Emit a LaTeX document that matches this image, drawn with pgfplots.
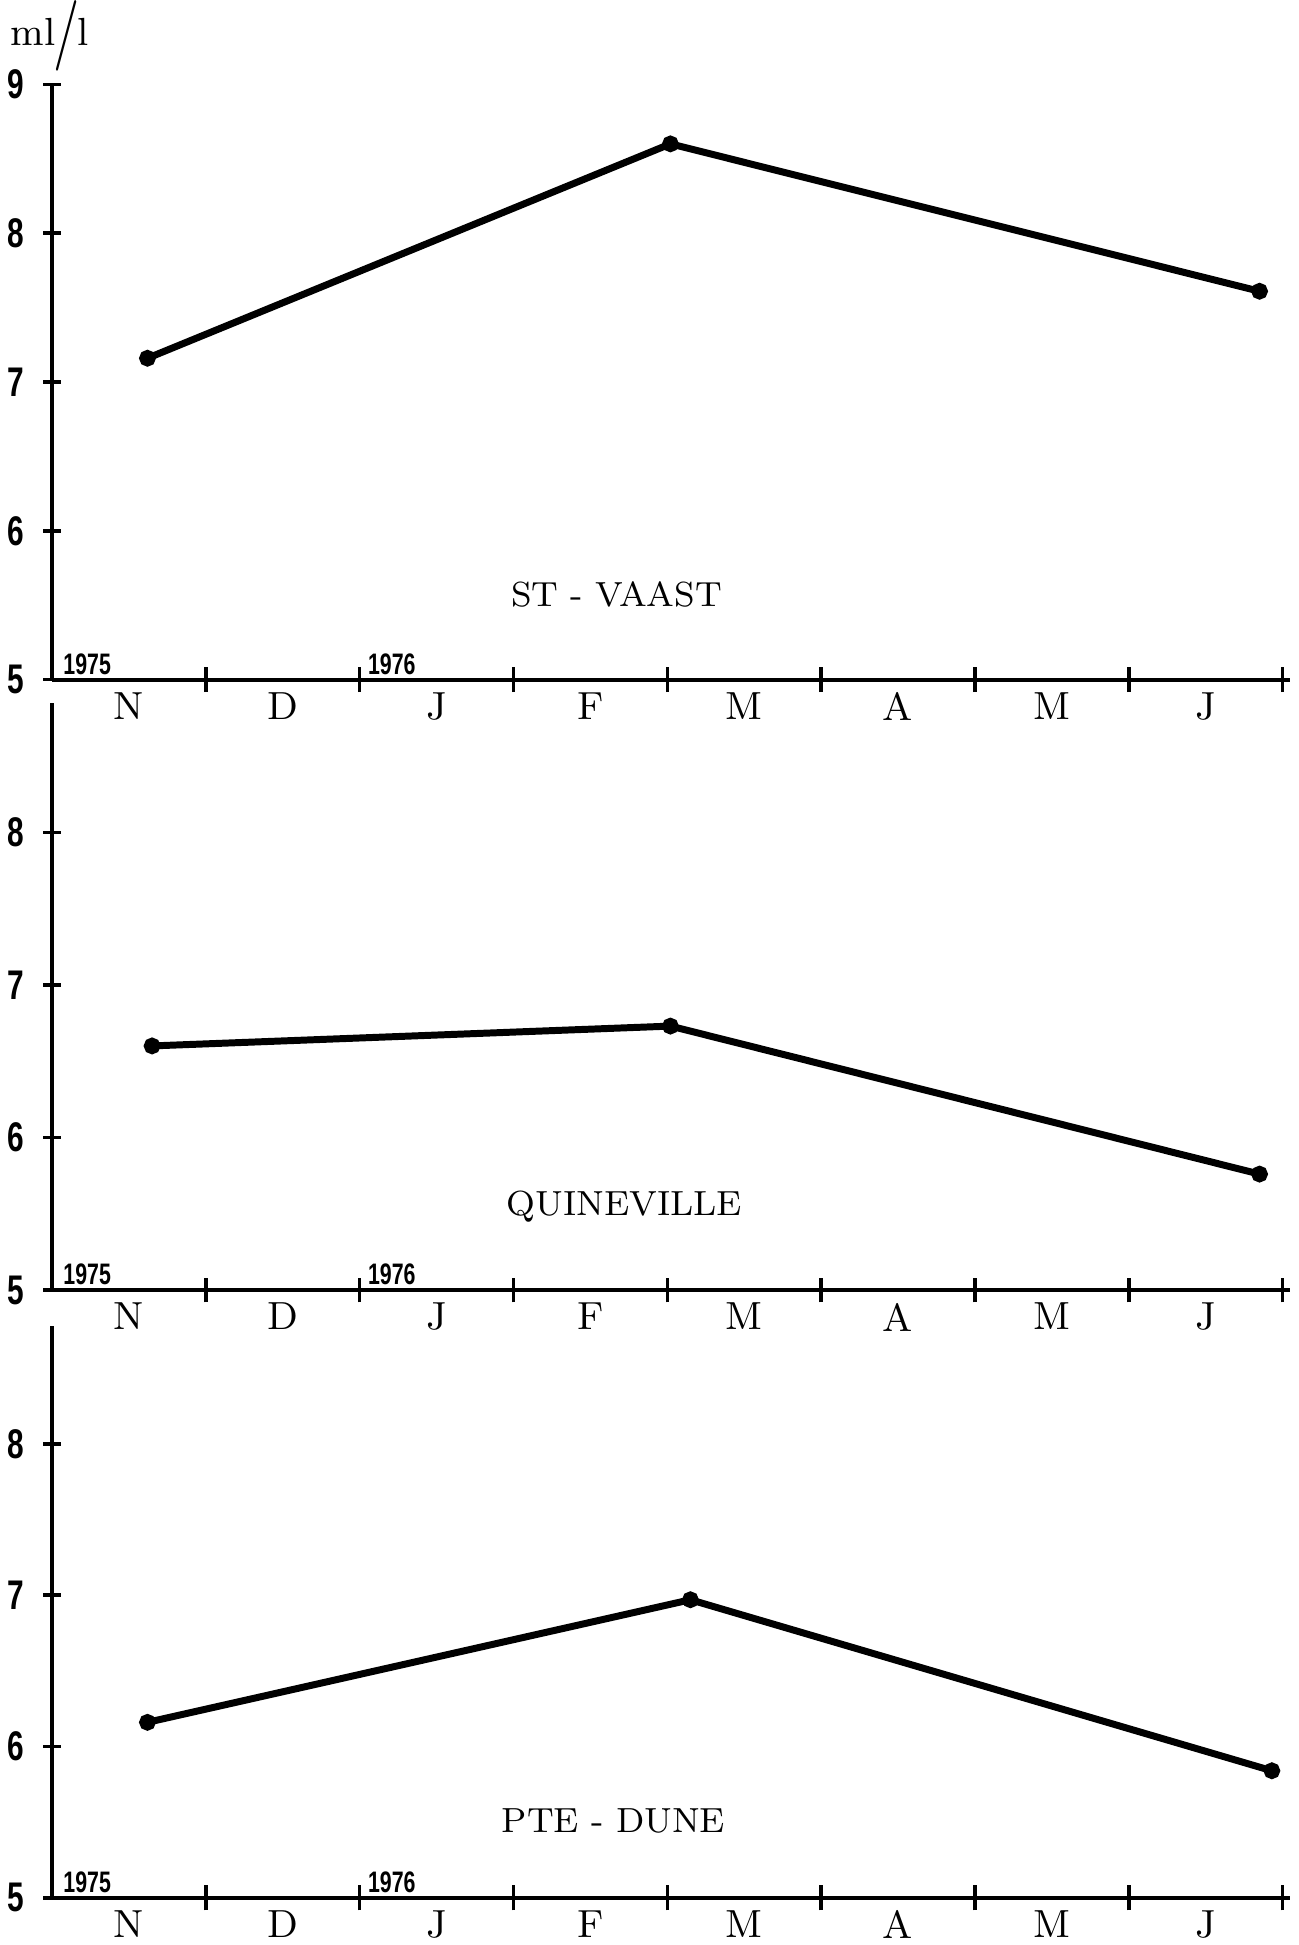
\documentclass[border=0pt]{standalone}
\usepackage{fontspec}
\usepackage{graphicx}
\usepackage{pgfplots}
\usepackage{pgfplotstable}
\pgfplotsset{compat=1.18}
\newfontfamily\condfont[FakeStretch=0.72]{Liberation Sans}

\pgfplotstableread{
x y
0.62 7.16
4.02 8.60
7.85 7.61
}\vaast
\pgfplotstableread{
x y
0.65 6.60
4.02 6.73
7.85 5.76
}\quine
\pgfplotstableread{
x y
0.62 6.16
4.15 6.97
7.93 5.84
}\dune

\pgfplotsset{panel/.style={
  axis lines=left,
  axis line style={-, line width=0.9pt, black},
  x=12.4mm, xmin=0, xmax=8.05, ymin=5,
  xtick={0.5,1.5,...,7.5},
  xticklabels={N,D,J,F,M,A,M,J},
  major x tick style={draw=none},
  minor xtick={1,2,...,8},
  minor x tick style={line width=0.8pt, black},
  minor tick length=2mm,
  tick align=center,
  y tick style={line width=0.8pt, black},
  major tick length=1.4mm,
  xticklabel style={font=\fontsize{9}{9}\selectfont, yshift=0.9mm},
  yticklabel style={font=\condfont\bfseries\fontsize{9.5}{9.5}\selectfont, xshift=-0.3mm},
  clip=false,
},
dataline/.style={black, line width=1.6pt, mark=*, mark size=1.1pt, mark options={solid, fill=black}}
}

\newcommand{\yearlabels}{%
  \node[anchor=south west, inner sep=1pt, font=\condfont\bfseries\fontsize{6.8}{6.8}\selectfont] at (axis cs:0.04,5) {1975};
  \node[anchor=south west, inner sep=1pt, font=\condfont\bfseries\fontsize{6.8}{6.8}\selectfont] at (axis cs:2.02,5) {1976};
}

\begin{document}
\begin{tikzpicture}
\useasboundingbox (-4.2mm,-102mm) rectangle (100.5mm,54.8mm);

\begin{axis}[panel, at={(0,0)}, anchor=south west,
  y=12.0mm, ymax=9, ytick={5,6,7,8,9}, yticklabels={5,6,7,8,9}]
\addplot[dataline] table[x=x,y=y] {\vaast};
\yearlabels
\node[font=\fontsize{8}{8}\selectfont\addfontfeature{LetterSpace=8}] at (axis cs:3.67,5.57) {ST - VAAST};
\node[font=\fontsize{9}{9}\selectfont, anchor=center] at ([yshift=3.9mm,xshift=-0.2mm]rel axis cs:0,1)
  {ml\kern-0.5pt\raisebox{-0.5ex}{\scalebox{1.3}[1.8]{/}}\kern-0.5pt l};
\end{axis}

\begin{axis}[panel, at={(0,-49.2mm)}, anchor=south west,
  y=12.3mm, ymax=8.85, ytick={5,6,7,8}, yticklabels={5,6,7,8}]
\addplot[dataline] table[x=x,y=y] {\quine};
\yearlabels
\node[font=\fontsize{8}{8}\selectfont\addfontfeature{LetterSpace=8}] at (axis cs:3.72,5.55) {QUINEVILLE};
\end{axis}

\begin{axis}[panel, at={(0,-98.2mm)}, anchor=south west,
  y=12.2mm, ymax=8.78, ytick={5,6,7,8}, yticklabels={5,6,7,8}]
\addplot[dataline] table[x=x,y=y] {\dune};
\yearlabels
\node[font=\fontsize{8}{8}\selectfont\addfontfeature{LetterSpace=8}] at (axis cs:3.65,5.51) {PTE - DUNE};
\end{axis}
\end{tikzpicture}
\end{document}
